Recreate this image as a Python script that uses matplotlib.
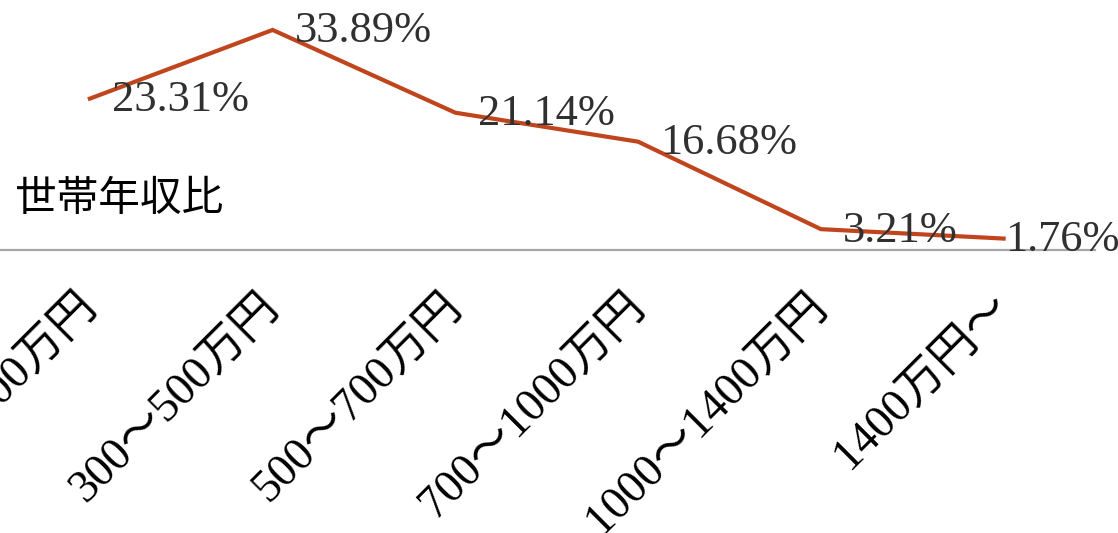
import matplotlib
matplotlib.use("Agg")
import matplotlib.pyplot as plt

categories = ["〜300万円", "300〜500万円", "500〜700万円", "700〜1000万円", "1000〜1400万円", "1400万円〜"]
values = [23.31, 33.89, 21.14, 16.68, 3.21, 1.76]
value_labels = ["23.31%", "33.89%", "21.14%", "16.68%", "3.21%", "1.76%"]
title = "世帯年収比"

W, H = 1118, 533
fig = plt.figure(figsize=(W / 100, H / 100), dpi=100)
fig.patch.set_facecolor("white")

left = -1.5 / W
width = (1095 + 1.5) / W
bottom = 1 - 250 / H
height = 250 / H
ax = fig.add_axes([left, bottom, width, height])
ax.set_xlim(-0.5, len(categories) - 0.5)
ax.set_ylim(0, 38.5)

x = list(range(len(categories)))
ax.plot(x, values, color="#C0451C", lw=3.0, solid_joinstyle="miter", clip_on=False, zorder=3)

for i, (v, lab) in enumerate(zip(values, value_labels)):
    dx = 16 if i < len(values) - 1 else 1
    ax.annotate(lab, (i, v), xytext=(dx, -1), textcoords="offset points",
                ha="left", va="center", fontsize=32, color="#303030",
                family=["Liberation Serif", "Noto Sans CJK JP"], zorder=4,
                annotation_clip=False)

for s in ["top", "right", "left"]:
    ax.spines[s].set_visible(False)
ax.spines["bottom"].set_color("#A6A6A6")
ax.spines["bottom"].set_linewidth(1.6)
ax.set_yticks([])
ax.set_xticks(x)
ax.set_xticklabels(categories, rotation=45, ha="right", va="center",
                   rotation_mode="anchor", fontsize=33, color="black",
                   family=["Liberation Serif", "Noto Sans CJK JP"])
ax.tick_params(axis="x", length=0, pad=36)

fig.text(15 / W, 1 - 200 / H, title, fontsize=30, ha="left", va="center",
         family=["Noto Sans CJK JP"], color="black")

fig.savefig("out.png", dpi=100, facecolor="white")
